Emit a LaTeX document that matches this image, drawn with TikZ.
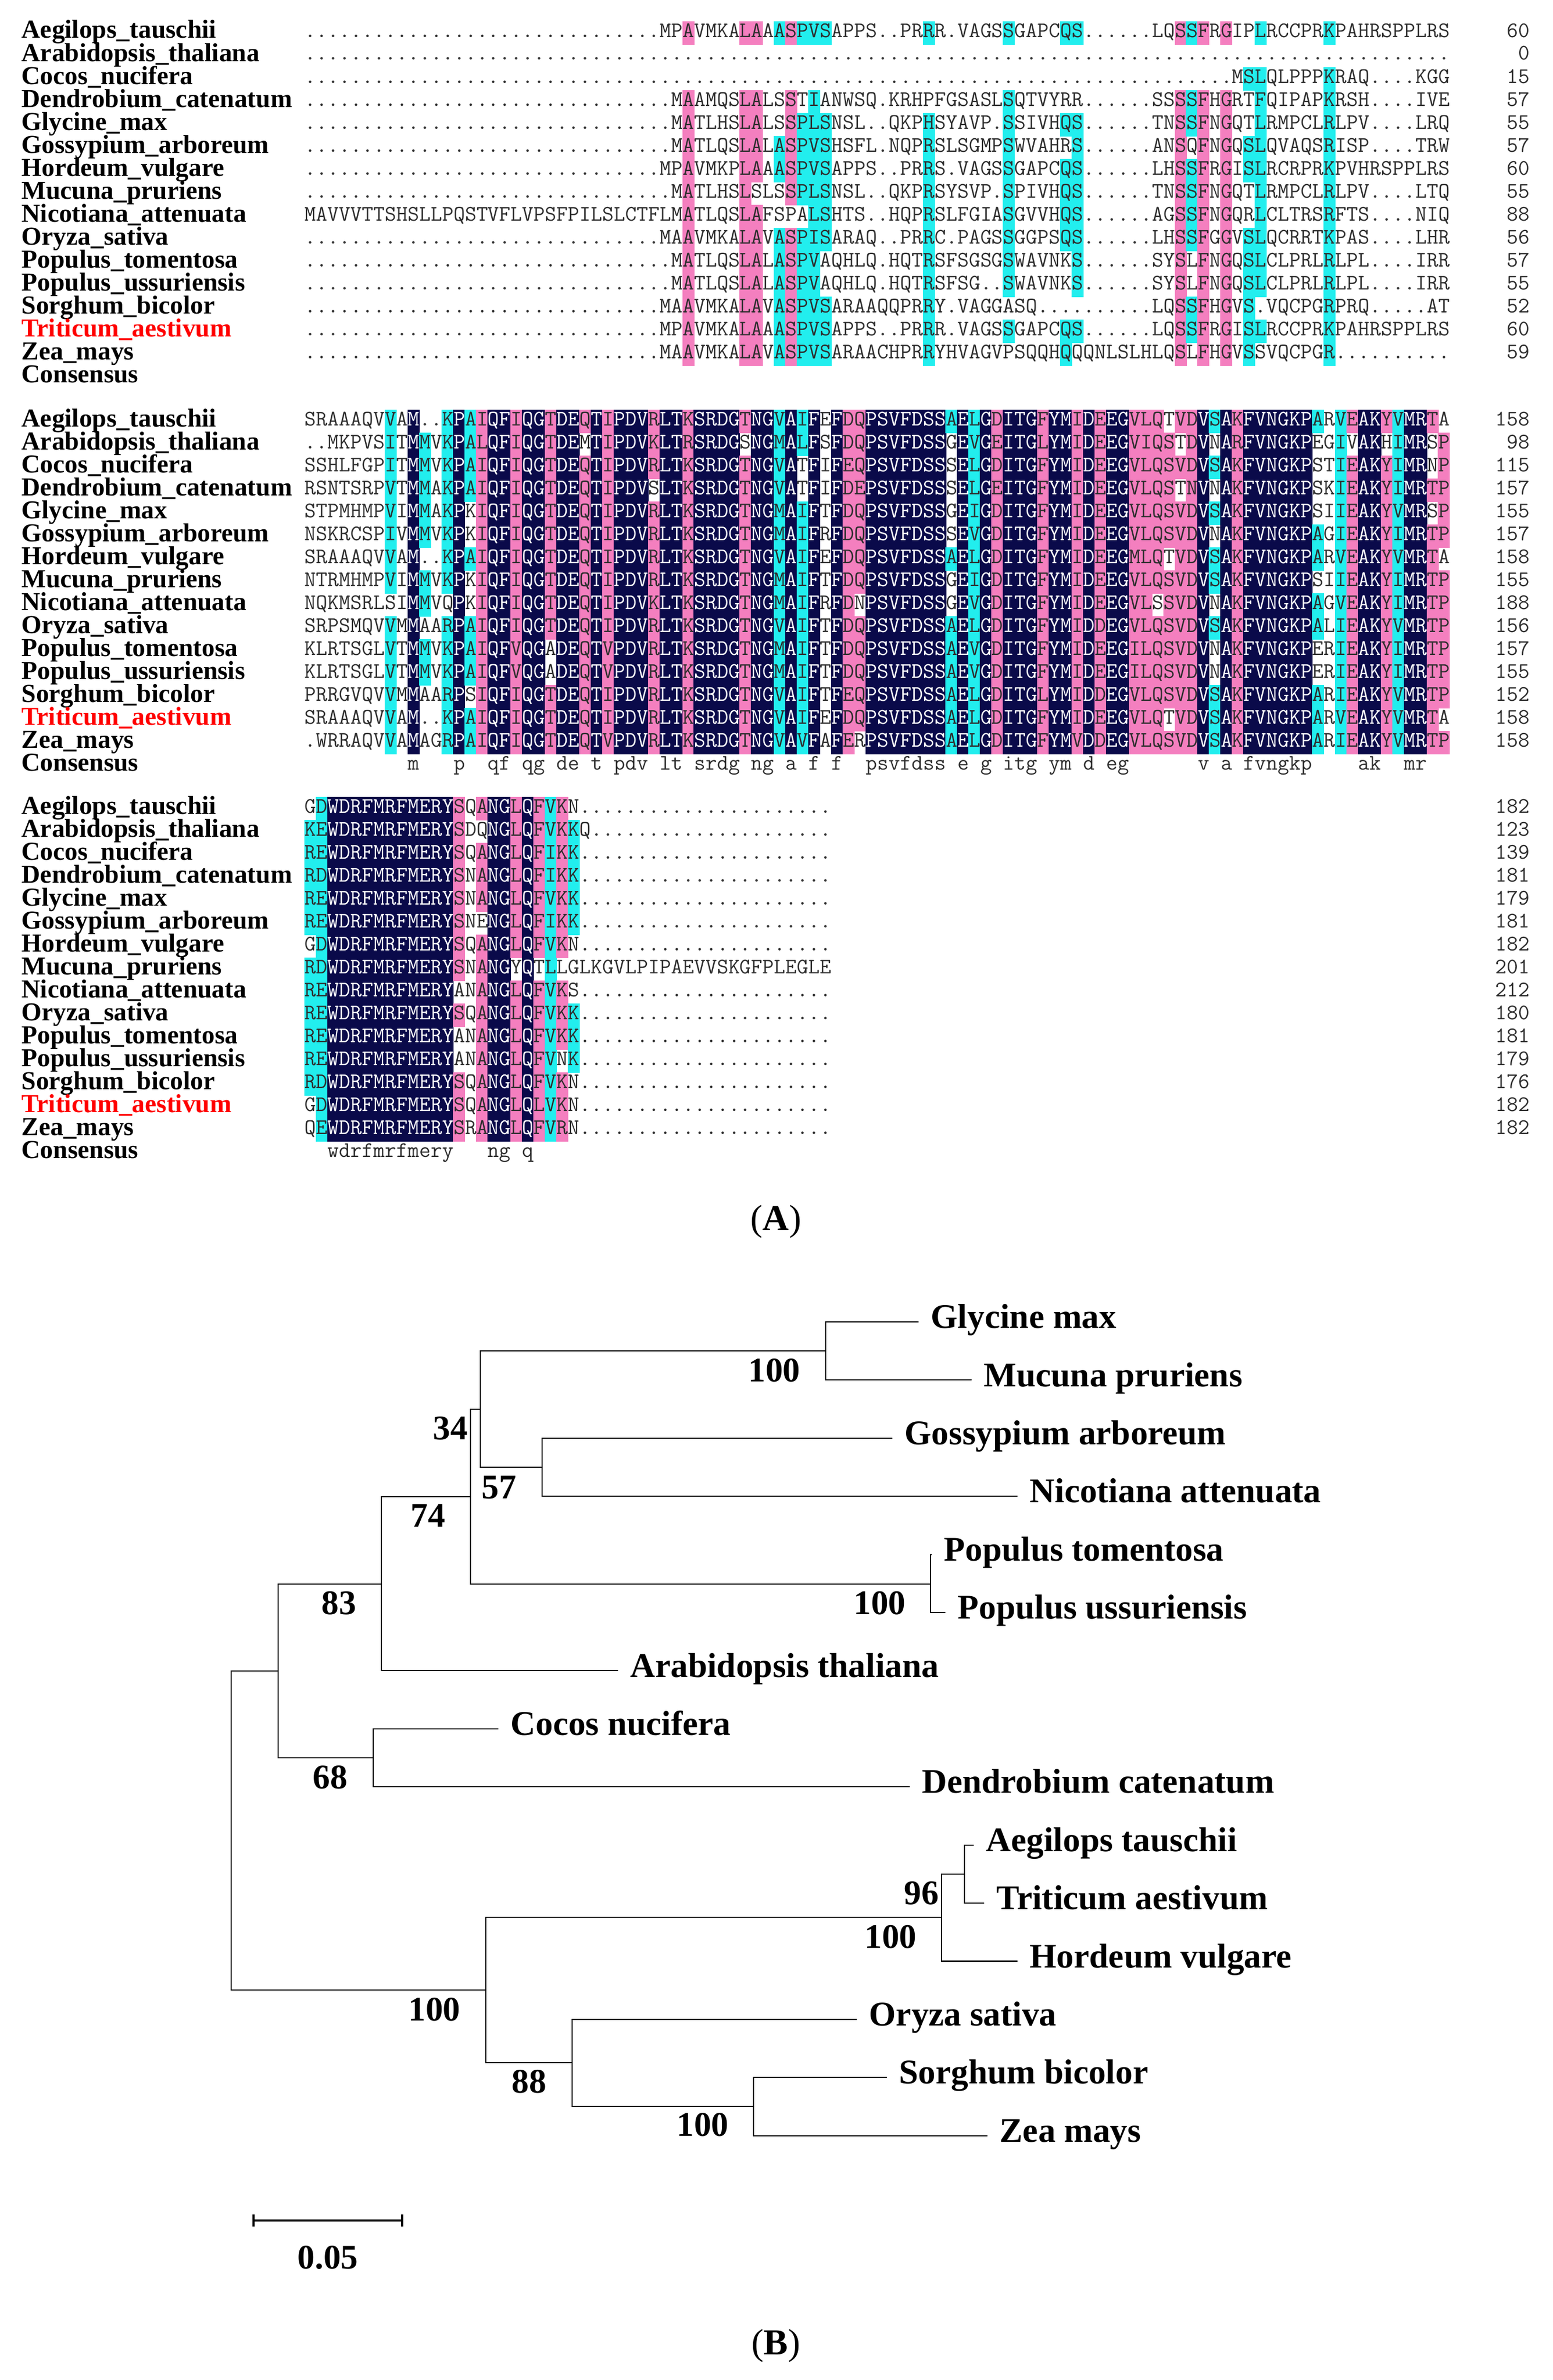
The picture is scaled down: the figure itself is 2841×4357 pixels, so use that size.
\documentclass[tikz,border=0pt]{standalone}
\usepackage{fontspec}
\setmainfont{Liberation Serif}
\usetikzlibrary{positioning}
\definecolor{IdentCol}{HTML}{0A0A4A}
\definecolor{HighCol}{HTML}{F47FBF}
\definecolor{HalfCol}{HTML}{22EEEE}
\definecolor{ResCol}{HTML}{2E2E2E}
\definecolor{TargetCol}{HTML}{FF0000}
\newlength\cellw
\newcommand\resfont{\ttfamily\fontsize{11.57}{12}\selectfont}
\tikzset{
  residues/.style={
    anchor=base west,
    inner sep=0pt,
    text=ResCol,
    font=\resfont,
    },
  rescount/.style={residues, anchor=base east},
  seqname/.style={
    anchor=base west,
    inner sep=0pt,
    font=\bfseries\fontsize{13.5}{14}\selectfont,
    },
  branch/.style={line width=0.6pt},
  scalebar/.style={line width=1pt},
  leaf/.style={
    inner sep=0pt,
    text height=0.66em,
    text depth=0pt,
    font=\bfseries\fontsize{18}{20}\selectfont,
    },
  support/.style={leaf},
  panel/.style={inner sep=0pt, font=\fontsize{19}{22}\selectfont},
}
\newcommand\shadecell[3]{%
  \fill[#3] ([xshift={(#1-1)*\cellw}, yshift=-4pt]557,#2) rectangle ++(\cellw+0.3pt,12.2pt);}
\newcommand\seqrow[2]{\node[residues] (seq-#1) at (557,#1) {#2};}
\newcommand\conscell[3]{\node[residues] (cons-#2-#1) at ([xshift={(#1-1)*\cellw}]557,#2) {\lowercase{#3}};}

\ExplSyntaxOn
\tl_const:Nn \c_aln_dot_tl { . }
\tl_const:Nn \c_aln_ident_tl { IdentCol }
\tl_const:Nn \c_aln_sim_tl
  { ,RK,KR,RH,HR,RW,WR,ND,DN,NH,HN,DE,ED,DQ,QD,QE,EQ,QH,HQ,
    IV,VI,IL,LI,IM,MI,LM,ML,LV,VL,LF,FL,MV,VM,FY,YF, }
\int_new:N \l_aln_max_int
\int_new:N \l_aln_cnt_int
\tl_new:N \l_aln_c_tl
\tl_new:N \l_aln_d_tl
\tl_new:N \l_aln_key_tl
\tl_new:N \l_aln_cons_tl
\tl_new:N \l_aln_fill_tl
\bool_new:N \l_aln_mark_bool

% rows padded with gaps on the left or on the right
\NewDocumentCommand \setrow { m m m }
  {
    \tl_gclear_new:c { g_aln_row_#1_tl }
    \tl_gset:cx { g_aln_row_#1_tl }
      { \prg_replicate:nn { #2 - \tl_count:n {#3} } { . } #3 }
  }
\NewDocumentCommand \setrowend { m m m }
  {
    \tl_gclear_new:c { g_aln_row_#1_tl }
    \tl_gset:cx { g_aln_row_#1_tl }
      { #3 \prg_replicate:nn { #2 - \tl_count:n {#3} } { . } }
  }

\cs_new_protected:Npn \aln_count:n #1
  {
    \int_zero:N \l_aln_cnt_int
    \int_step_inline:nn { 15 }
      {
        \tl_set:Nx \l_aln_d_tl { \tl_item:cn { g_aln_row_##1_tl } {#1} }
        \tl_if_eq:NNT \l_aln_d_tl \l_aln_c_tl { \int_incr:N \l_aln_cnt_int }
      }
  }

% most frequent residue of a column and its shading level
\cs_new_protected:Npn \aln_consensus:n #1
  {
    \int_zero:N \l_aln_max_int
    \tl_clear:N \l_aln_cons_tl
    \int_step_inline:nn { 15 }
      {
        \tl_set:Nx \l_aln_c_tl { \tl_item:cn { g_aln_row_##1_tl } {#1} }
        \tl_if_eq:NNF \l_aln_c_tl \c_aln_dot_tl
          {
            \aln_count:n {#1}
            \int_compare:nNnT \l_aln_cnt_int > \l_aln_max_int
              {
                \int_set_eq:NN \l_aln_max_int \l_aln_cnt_int
                \tl_set_eq:NN \l_aln_cons_tl \l_aln_c_tl
              }
          }
      }
    \tl_clear:N \l_aln_fill_tl
    \int_compare:nNnTF \l_aln_max_int = { 15 }
      { \tl_set:Nn \l_aln_fill_tl { IdentCol } }
      {
        \int_compare:nNnTF \l_aln_max_int > { 11 }
          { \tl_set:Nn \l_aln_fill_tl { HighCol } }
          {
            \int_compare:nNnT \l_aln_max_int > { 7 }
              { \tl_set:Nn \l_aln_fill_tl { HalfCol } }
          }
      }
  }

\NewDocumentCommand \drawblock { m m }
  {
    \int_step_inline:nn { 15 } { \tl_clear_new:c { l_aln_text_##1_tl } }
    \int_step_inline:nn {#1}
      {
        \aln_consensus:n {##1}
        \int_step_inline:nn { 15 }
          {
            \tl_set:Nx \l_aln_c_tl { \tl_item:cn { g_aln_row_####1_tl } {##1} }
            \bool_set_false:N \l_aln_mark_bool
            \tl_if_empty:NF \l_aln_fill_tl
              {
                \tl_if_eq:NNTF \l_aln_c_tl \l_aln_cons_tl
                  { \bool_set_true:N \l_aln_mark_bool }
                  {
                    \tl_set:Nx \l_aln_key_tl { , \l_aln_c_tl \l_aln_cons_tl , }
                    \exp_args:NNV \tl_if_in:NnT \c_aln_sim_tl \l_aln_key_tl
                      { \bool_set_true:N \l_aln_mark_bool }
                  }
              }
            \bool_if:NTF \l_aln_mark_bool
              {
                \use:x
                  {
                    \exp_not:N \shadecell {##1}
                      { \int_eval:n { #2 + 42 * ( ####1 - 1 ) } } { \l_aln_fill_tl }
                  }
                \tl_if_eq:NNTF \l_aln_fill_tl \c_aln_ident_tl
                  {
                    \tl_put_right:cx { l_aln_text_####1_tl }
                      { \exp_not:N \textcolor { white } { \l_aln_c_tl } }
                  }
                  { \tl_put_right:cV { l_aln_text_####1_tl } \l_aln_c_tl }
              }
              { \tl_put_right:cV { l_aln_text_####1_tl } \l_aln_c_tl }
          }
        \tl_if_eq:NNT \l_aln_fill_tl \c_aln_ident_tl
          {
            \use:x
              {
                \exp_not:N \conscell {##1}
                  { \int_eval:n { #2 + 42 * 15 } } { \l_aln_cons_tl }
              }
          }
      }
    \int_step_inline:nn { 15 }
      {
        \use:x
          {
            \exp_not:N \seqrow { \int_eval:n { #2 + 42 * ( ##1 - 1 ) } }
              { \exp_not:v { l_aln_text_##1_tl } }
          }
      }
  }
\ExplSyntaxOff

\begin{document}
\settowidth\cellw{\resfont M}
\begin{tikzpicture}[x=0.01cm, y=-0.01cm]
    \useasboundingbox (0,0) rectangle (2841,4357);

    % Alignment, block 1
    \setrow{1}{100}{MPAVMKALAAASPVSAPPS..PRRR.VAGSSGAPCQS......LQSSFRGIPLRCCPRKPAHRSPPLRS}
    \setrow{2}{100}{}
    \setrow{3}{100}{MSLQLPPPKRAQ....KGG}
    \setrow{4}{100}{MAAMQSLALSSTIANWSQ.KRHPFGSASLSQTVYRR......SSSSFHGRTFQIPAPKRSH....IVE}
    \setrow{5}{100}{MATLHSLALSSPLSNSL..QKPHSYAVP.SSIVHQS......TNSSFNGQTLRMPCLRLPV....LRQ}
    \setrow{6}{100}{MATLQSLALASPVSHSFL.NQPRSLSGMPSWVAHRS......ANSQFNGQSLQVAQSRISP....TRW}
    \setrow{7}{100}{MPAVMKPLAAASPVSAPPS..PRRS.VAGSSGAPCQS......LHSSFRGISLRCRPRKPVHRSPPLRS}
    \setrow{8}{100}{MATLHSLSLSSPLSNSL..QKPRSYSVP.SPIVHQS......TNSSFNGQTLRMPCLRLPV....LTQ}
    \setrow{9}{100}{MAVVVTTSHSLLPQSTVFLVPSFPILSLCTFLMATLQSLAFSPALSHTS..HQPRSLFGIASGVVHQS......AGSSFNGQRLCLTRSRFTS....NIQ}
    \setrow{10}{100}{MAAVMKALAVASPISARAQ..PRRC.PAGSSGGPSQS......LHSSFGGVSLQCRRTKPAS....LHR}
    \setrow{11}{100}{MATLQSLALASPVAQHLQ.HQTRSFSGSGSWAVNKS......SYSLFNGQSLCLPRLRLPL....IRR}
    \setrow{12}{100}{MATLQSLALASPVAQHLQ.HQTRSFSG..SWAVNKS......SYSLFNGQSLCLPRLRLPL....IRR}
    \setrow{13}{100}{MAAVMKALAVASPVSARAAQQPRRY.VAGGASQ..........LQSSFHGVS.VQCPGRPRQ.....AT}
    \setrow{14}{100}{MPAVMKALAAASPVSAPPS..PRRR.VAGSSGAPCQS......LQSSFRGISLRCCPRKPAHRSPPLRS}
    \setrow{15}{100}{MAAVMKALAVASPVSARAACHPRRYHVAGVPSQQHQQQNLSLHLQSLFHGVSSVQCPGR..........}
    \drawblock{100}{68}

    % Alignment, block 2
    \setrow{1}{100}{SRAAAQVVAM..KPAIQFIQGTDEQTIPDVRLTKSRDGTNGVAIFEFDQPSVFDSSAELGDITGFYMIDEEGVLQTVDVSAKFVNGKPARVEAKYVMRTA}
    \setrow{2}{100}{..MKPVSITMMVKPALQFIQGTDEMTIPDVKLTRSRDGSNGMALFSFDQPSVFDSSGEVGEITGLYMIDEEGVIQSTDVNARFVNGKPEGIVAKHIMRSP}
    \setrow{3}{100}{SSHLFGPITMMVKPAIQFIQGTDEQTIPDVRLTKSRDGTNGVATFIFEQPSVFDSSSELGDITGFYMIDEEGVLQSVDVSAKFVNGKPSTIEAKYIMRNP}
    \setrow{4}{100}{RSNTSRPVTMMAKPAIQFIQGTDEQTIPDVSLTKSRDGTNGVATFIFDEPSVFDSSSELGEITGFYMIDEEGVLQSTNVNAKFVNGKPSKIEAKYIMRTP}
    \setrow{5}{100}{STPMHMPVIMMAKPKIQFIQGTDEQTIPDVRLTKSRDGTNGMAIFTFDQPSVFDSSGEIGDITGFYMIDEEGVLQSVDVSAKFVNGKPSIIEAKYVMRSP}
    \setrow{6}{100}{NSKRCSPIVMMVKPKIQFIQGTDEQTIPDVRLTKSRDGTNGMAIFRFDQPSVFDSSSEVGDITGFYMIDEEGVLQSVDVNAKFVNGKPAGIEAKYIMRTP}
    \setrow{7}{100}{SRAAAQVVAM..KPAIQFIQGTDEQTIPDVRLTKSRDGTNGVAIFEFDQPSVFDSSAELGDITGFYMIDEEGMLQTVDVSAKFVNGKPARVEAKYVMRTA}
    \setrow{8}{100}{NTRMHMPVIMMVKPKIQFIQGTDEQTIPDVRLTKSRDGTNGMAIFTFDQPSVFDSSGEIGDITGFYMIDEEGVLQSVDVSAKFVNGKPSIIEAKYIMRTP}
    \setrow{9}{100}{NQKMSRLSIMMVQPKIQFIQGTDEQTIPDVKLTKSRDGTNGMAIFRFDNPSVFDSSGEVGDITGFYMIDEEGVLSSVDVNAKFVNGKPAGVEAKYIMRTP}
    \setrow{10}{100}{SRPSMQVVMMAARPAIQFIQGTDEQTIPDVRLTKSRDGTNGVAIFTFDQPSVFDSSAELGDITGFYMIDDEGVLQSVDVSAKFVNGKPALIEAKYVMRTP}
    \setrow{11}{100}{KLRTSGLVTMMVKPAIQFVQGADEQTVPDVRLTKSRDGTNGMAIFTFDQPSVFDSSAEVGDITGFYMIDEEGILQSVDVNAKFVNGKPERIEAKYIMRTP}
    \setrow{12}{100}{KLRTSGLVTMMVKPAIQFVQGADEQTVPDVRLTKSRDGTNGMAIFTFDQPSVFDSSAEVGDITGFYMIDEEGILQSVDVNAKFVNGKPERIEAKYIMRTP}
    \setrow{13}{100}{PRRGVQVVMMAARPSIQFIQGTDEQTIPDVRLTKSRDGTNGVAIFTFEQPSVFDSSAELGDITGLYMIDDEGVLQSVDVSAKFVNGKPARIEAKYVMRTP}
    \setrow{14}{100}{SRAAAQVVAM..KPAIQFIQGTDEQTIPDVRLTKSRDGTNGVAIFEFDQPSVFDSSAELGDITGFYMIDEEGVLQTVDVSAKFVNGKPARVEAKYVMRTA}
    \setrow{15}{100}{.WRRAQVVAMAGRPAIQFIQGTDEQTVPDVRLTKSRDGTNGVAVFAFERPSVFDSSAELGDITGFYMVDDEGVLQSVDVSAKFVNGKPARIEAKYVMRTP}
    \drawblock{100}{779}

    % Alignment, block 3
    \setrowend{1}{46}{GDWDRFMRFMERYSQANGLQFVKN}
    \setrowend{2}{46}{KEWDRFMRFMERYSDQNGLQFVKKQ}
    \setrowend{3}{46}{REWDRFMRFMERYSQANGLQFIKK}
    \setrowend{4}{46}{RDWDRFMRFMERYSNANGLQFIKK}
    \setrowend{5}{46}{REWDRFMRFMERYSNANGLQFVKK}
    \setrowend{6}{46}{REWDRFMRFMERYSNENGLQFIKK}
    \setrowend{7}{46}{GDWDRFMRFMERYSQANGLQFVKN}
    \setrowend{8}{46}{RDWDRFMRFMERYSNANGYQTLLGLKGVLPIPAEVVSKGFPLEGLE}
    \setrowend{9}{46}{REWDRFMRFMERYANANGLQFVKS}
    \setrowend{10}{46}{REWDRFMRFMERYSQANGLQFVKK}
    \setrowend{11}{46}{REWDRFMRFMERYANANGLQFVKK}
    \setrowend{12}{46}{REWDRFMRFMERYANANGLQFVNK}
    \setrowend{13}{46}{RDWDRFMRFMERYSQANGLQFVKN}
    \setrowend{14}{46}{GDWDRFMRFMERYSQANGLQLVKN}
    \setrowend{15}{46}{QEWDRFMRFMERYSRANGLQFVRN}
    \drawblock{46}{1488}

    % Names and residue counts
    \foreach \blocky/\counts in {68/{60,0,15,57,55,57,60,55,88,56,57,55,52,60,59},
        779/{158,98,115,157,155,157,158,155,188,156,157,155,152,158,158},
        1488/{182,123,139,181,179,181,182,201,212,180,181,179,176,182,182}} {
      \foreach \sp/\spcol [count=\i from 0] in {Aegilops\_tauschii/black,
          Arabidopsis\_thaliana/black, Cocos\_nucifera/black,
          Dendrobium\_catenatum/black, Glycine\_max/black,
          Gossypium\_arboreum/black, Hordeum\_vulgare/black,
          Mucuna\_pruriens/black, Nicotiana\_attenuata/black,
          Oryza\_sativa/black, Populus\_tomentosa/black,
          Populus\_ussuriensis/black, Sorghum\_bicolor/black,
          Triticum\_aestivum/TargetCol, Zea\_mays/black}
        \node[seqname, text=\spcol] (name-\blocky-\i) at (39,\blocky+2+42*\i) {\sp};
      \node[seqname] (name-\blocky-cons) at (39,\blocky+2+630) {Consensus};
      \foreach \n [count=\i from 0] in \counts
        \node[rescount] (count-\blocky-\i) at (2800,\blocky+42*\i) {\n};
    }

    \node[panel] (panel-a) at (1420,2236) {(\textbf{A})};

    % Tree, leaves
    \foreach \leaf/\tip/\txt [count=\k from 0] in {glyc/1681/Glycine max,
        mucu/1778/Mucuna pruriens, goss/1633/Gossypium arboreum,
        nico/1862/Nicotiana attenuata, ptom/1705/Populus tomentosa,
        puss/1730/Populus ussuriensis, arab/1131/Arabidopsis thaliana,
        coco/912/Cocos nucifera, dend/1665/Dendrobium catenatum,
        aegi/1782/Aegilops tauschii, trit/1801/Triticum aestivum,
        hord/1862/Hordeum vulgare, oryz/1568/Oryza sativa,
        sorg/1623/Sorghum bicolor, zeam/1807/Zea mays} {
      \coordinate (\leaf) at (\tip,2420+106.4*\k);
      \node[leaf, right=0.22cm of \leaf] (\leaf-name) {\txt};
    }

    % Tree, inner nodes
    \coordinate (gm) at (1511,2473);
    \coordinate (gn) at (992,2686);
    \coordinate (n34) at (879,2580);
    \coordinate (pp) at (1703,2900);
    \coordinate (n74) at (861,2740);
    \coordinate (n83) at (698,2900);
    \coordinate (cd) at (683,3218);
    \coordinate (dicot) at (509,3059);
    \coordinate (at) at (1765,3431);
    \coordinate (n96) at (1723,3510);
    \coordinate (sz) at (1379,3856);
    \coordinate (n88) at (1047,3776);
    \coordinate (grass) at (889,3643);
    \coordinate (root) at (423,3351);

    \foreach \child/\parent in {glyc/gm, mucu/gm, goss/gn, nico/gn, gm/n34,
        gn/n34, ptom/pp, puss/pp, n34/n74, pp/n74, n74/n83, arab/n83,
        coco/cd, dend/cd, n83/dicot, cd/dicot, aegi/at, trit/at, at/n96,
        hord/n96, sorg/sz, zeam/sz, oryz/n88, sz/n88, n96/grass,
        n88/grass, dicot/root, grass/root}
      \draw[branch] (\child) -| (\parent);

    % Bootstrap values
    \node[support] (bs-gm) at (1417,2518) {100};
    \node[support] (bs-34) at (824,2624) {34};
    \node[support] (bs-gn) at (913,2732) {57};
    \node[support] (bs-74) at (783,2784) {74};
    \node[support] (bs-pp) at (1610,2944) {100};
    \node[support] (bs-83) at (620,2944) {83};
    \node[support] (bs-cd) at (604,3263) {68};
    \node[support] (bs-at) at (1686,3475) {96};
    \node[support] (bs-96) at (1630,3555) {100};
    \node[support] (bs-grass) at (795,3688) {100};
    \node[support] (bs-88) at (968,3820) {88};
    \node[support] (bs-sz) at (1286,3899) {100};

    % Scale bar
    \coordinate (sb-l) at (464,4065);
    \coordinate (sb-r) at (736,4065);
    \draw[scalebar] (sb-l) -- (sb-r);
    \draw[scalebar] ([yshift=-3.2pt]sb-l) -- ([yshift=3.2pt]sb-l);
    \draw[scalebar] ([yshift=-3.2pt]sb-r) -- ([yshift=3.2pt]sb-r);
    \node[support] (sb-label) at (600,4142) {0.05};

    \node[panel] (panel-b) at (1420,4294) {(\textbf{B})};

\end{tikzpicture}
\end{document}
